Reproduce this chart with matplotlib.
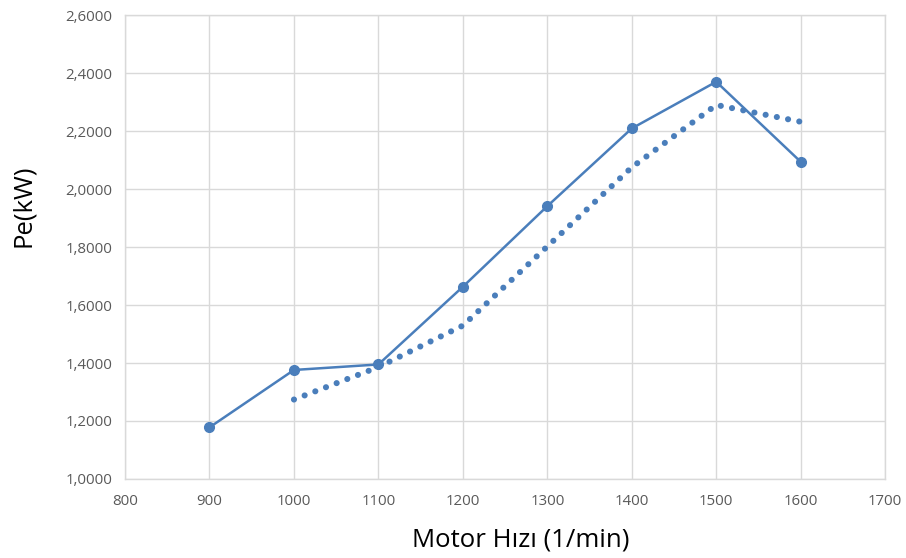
import matplotlib.pyplot as plt
import matplotlib.ticker as mticker

# motor speed vs effective power
speed = [900, 1000, 1100, 1200, 1300, 1400, 1500, 1600]
power = [1.178, 1.376, 1.395, 1.663, 1.941, 2.209, 2.370, 2.094]

# dotted trend line
trend_speed = [1000, 1100, 1200, 1300, 1400, 1500, 1600]
trend_power = [1.274, 1.386, 1.529, 1.802, 2.075, 2.290, 2.232]

x_ticks = list(range(800, 1701, 100))
y_ticks = [1.0, 1.2, 1.4, 1.6, 1.8, 2.0, 2.2, 2.4, 2.6]

blue = '#4A7EBB'
grid_col = '#D9D9D9'
plt.rcParams['font.family'] = ['Open Sans', 'DejaVu Sans']

fig = plt.figure(figsize=(9.06, 5.58), dpi=100)
ax = fig.add_axes([0.138, 0.1416, 0.839, 0.8314])

ax.plot(speed, power, color=blue, lw=1.8, marker='o', markersize=7, zorder=3)
ax.plot(trend_speed, trend_power, color=blue, lw=4.4,
        linestyle=(0, (0.01, 1.86)), dash_capstyle='round', zorder=2)

ax.set_xlim(800, 1700)
ax.set_ylim(1.0, 2.6)
ax.set_xticks(x_ticks)
ax.set_yticks(y_ticks)
ax.yaxis.set_major_formatter(mticker.FuncFormatter(lambda v, p: f'{v:.4f}'.replace('.', ',')))
ax.tick_params(length=0, labelsize=10.8, labelcolor='#595959', pad=9)
ax.tick_params(axis='x', pad=11)
ax.grid(color=grid_col, lw=1)
ax.set_axisbelow(True)
for s in ax.spines.values():
    s.set_color(grid_col)
    s.set_linewidth(1)

ax.set_xlabel('Motor Hızı (1/min)', fontsize=18.5, labelpad=13)
ax.set_ylabel('Pe(kW)', fontsize=18.5, labelpad=21)
ax.xaxis.label.set_x(0.521)
ax.yaxis.label.set_y(0.59)

fig.savefig('out.png', dpi=100)
